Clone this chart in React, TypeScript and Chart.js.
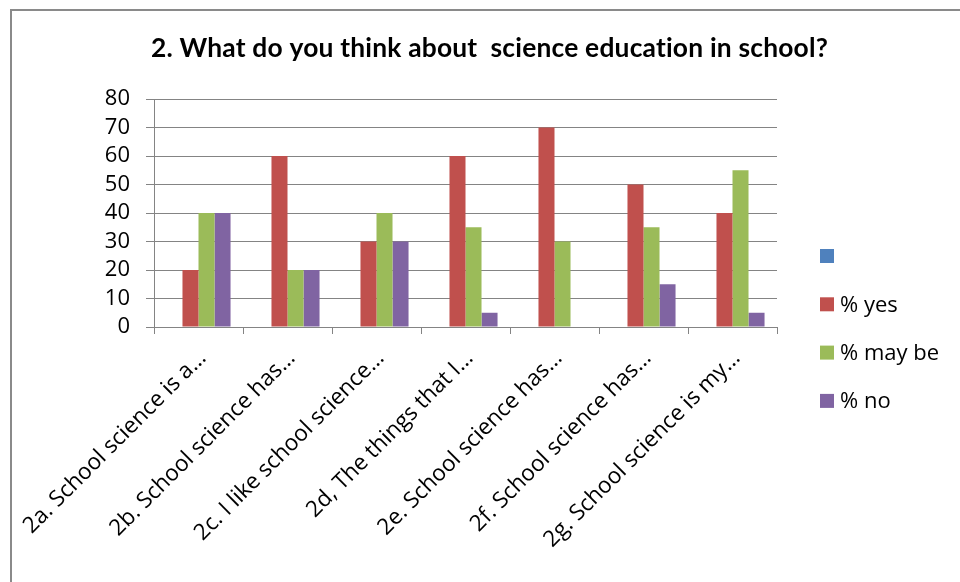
import React, { useEffect, useRef } from "react";
import { Chart, registerables } from "chart.js";

Chart.register(...registerables);

const titleText = "2. What do you think about  science education in school?";
const categories = [
  "2a. School science is a…",
  "2b. School science has…",
  "2c. I like school science…",
  "2d, The things that I…",
  "2e. School science has…",
  "2f. School science has…",
  "2g. School science is my…",
];
const seriesLabels = ["", "% yes", "% may be", "% no"];
const seriesColors = ["#4F81BD", "#C0504D", "#9BBB59", "#8064A2"];
const blankValues: (number | null)[] = [null, null, null, null, null, null, null];
const yesValues = [20, 60, 30, 60, 70, 50, 40];
const maybeValues = [40, 20, 40, 35, 30, 35, 55];
const noValues = [40, 20, 30, 5, 0, 15, 5];
const yMin = 0;
const yMax = 80;
const yStep = 10;

const TITLE_FONT = "Lato, 'Liberation Sans', sans-serif";
const FONT = "'Open Sans', Lato, sans-serif";
const GRID = "#848484";

const decorPlugin = {
  id: "decor",
  beforeDraw(chart: any) {
    const ctx = chart.ctx;
    ctx.save();
    ctx.fillStyle = "#ffffff";
    ctx.fillRect(0, 0, chart.width, chart.height);
    ctx.strokeStyle = "#8a8a8a";
    ctx.lineWidth = 2;
    ctx.strokeRect(11, 10, chart.width + 40, chart.height + 40);
    ctx.restore();
  },
  afterDraw(chart: any) {
    const ctx = chart.ctx;
    ctx.save();
    // title
    ctx.fillStyle = "#000000";
    ctx.textBaseline = "alphabetic";
    ctx.textAlign = "center";
    try {
      (ctx as any).letterSpacing = "0.2px";
    } catch (e) {
      /* ignore */
    }
    ctx.font = `bold 20px ${TITLE_FONT}`;
    const w = ctx.measureText(titleText).width;
    const size = (20 * 681) / w;
    ctx.font = `bold ${size.toFixed(2)}px ${TITLE_FONT}`;
    ctx.fillText(titleText, 489.5, 57);
    try {
      (ctx as any).letterSpacing = "0px";
    } catch (e) {
      /* ignore */
    }
    // legend
    const items = chart.data.datasets;
    const startY = 256;
    const gap = 48.3;
    ctx.textAlign = "left";
    ctx.textBaseline = "middle";
    ctx.font = `22px ${FONT}`;
    items.forEach((ds: any, i: number) => {
      const cy = startY + i * gap;
      ctx.fillStyle = ds.backgroundColor;
      ctx.fillRect(820, cy - 7, 14, 14);
      ctx.fillStyle = "#000000";
      ctx.fillText(ds.label, 840, cy + 1);
    });
    ctx.restore();
  },
};

export default function App() {
  const ref = useRef<HTMLCanvasElement | null>(null);
  useEffect(() => {
    if (!ref.current) return;
    const seriesValues = [blankValues, yesValues, maybeValues, noValues];
    const chart = new Chart(ref.current, {
      type: "bar",
      data: {
        labels: categories,
        datasets: seriesValues.map((vals, i) => ({
          label: seriesLabels[i],
          data: vals,
          backgroundColor: seriesColors[i],
          borderWidth: 0,
          categoryPercentage: 0.72,
          barPercentage: 1,
        })),
      },
      options: {
        responsive: false,
        animation: false,
        layout: { padding: { left: 94, right: 183, top: 99, bottom: 0 } },
        plugins: {
          legend: { display: false },
          title: { display: false },
          tooltip: { enabled: false },
        },
        scales: {
          x: {
            offset: true,
            grid: {
              display: true,
              drawOnChartArea: false,
              drawTicks: true,
              tickLength: 7,
              color: GRID,
              offset: true,
            },
            border: { display: true, color: GRID, width: 1 },
            ticks: {
              autoSkip: false,
              maxRotation: 45,
              minRotation: 45,
              padding: 11,
              labelOffset: 4,
              color: "#000000",
              font: { family: FONT, size: 22.5 },
            },
            afterFit(scale: any) {
              scale.height = 255;
              scale.paddingLeft = 0;
              scale.paddingRight = 0;
            },
          },
          y: {
            min: yMin,
            max: yMax,
            ticks: {
              stepSize: yStep,
              autoSkip: false,
              padding: 16,
              color: "#000000",
              font: { family: FONT, size: 22 },
            },
            grid: { color: GRID, tickLength: 8, lineWidth: 1 },
            border: { display: true, color: GRID, width: 1 },
            afterFit(scale: any) {
              scale.width = 60;
              scale.paddingTop = 0;
              scale.paddingBottom = 0;
            },
          },
        },
      },
      plugins: [decorPlugin],
    });
    return () => chart.destroy();
  }, []);
  return (
    <div style={{ position: "fixed", left: 0, top: 0, width: 960, height: 582, background: "#fff" }}>
      <canvas ref={ref} width={960} height={582} style={{ display: "block", width: 960, height: 582 }} />
    </div>
  );
}
